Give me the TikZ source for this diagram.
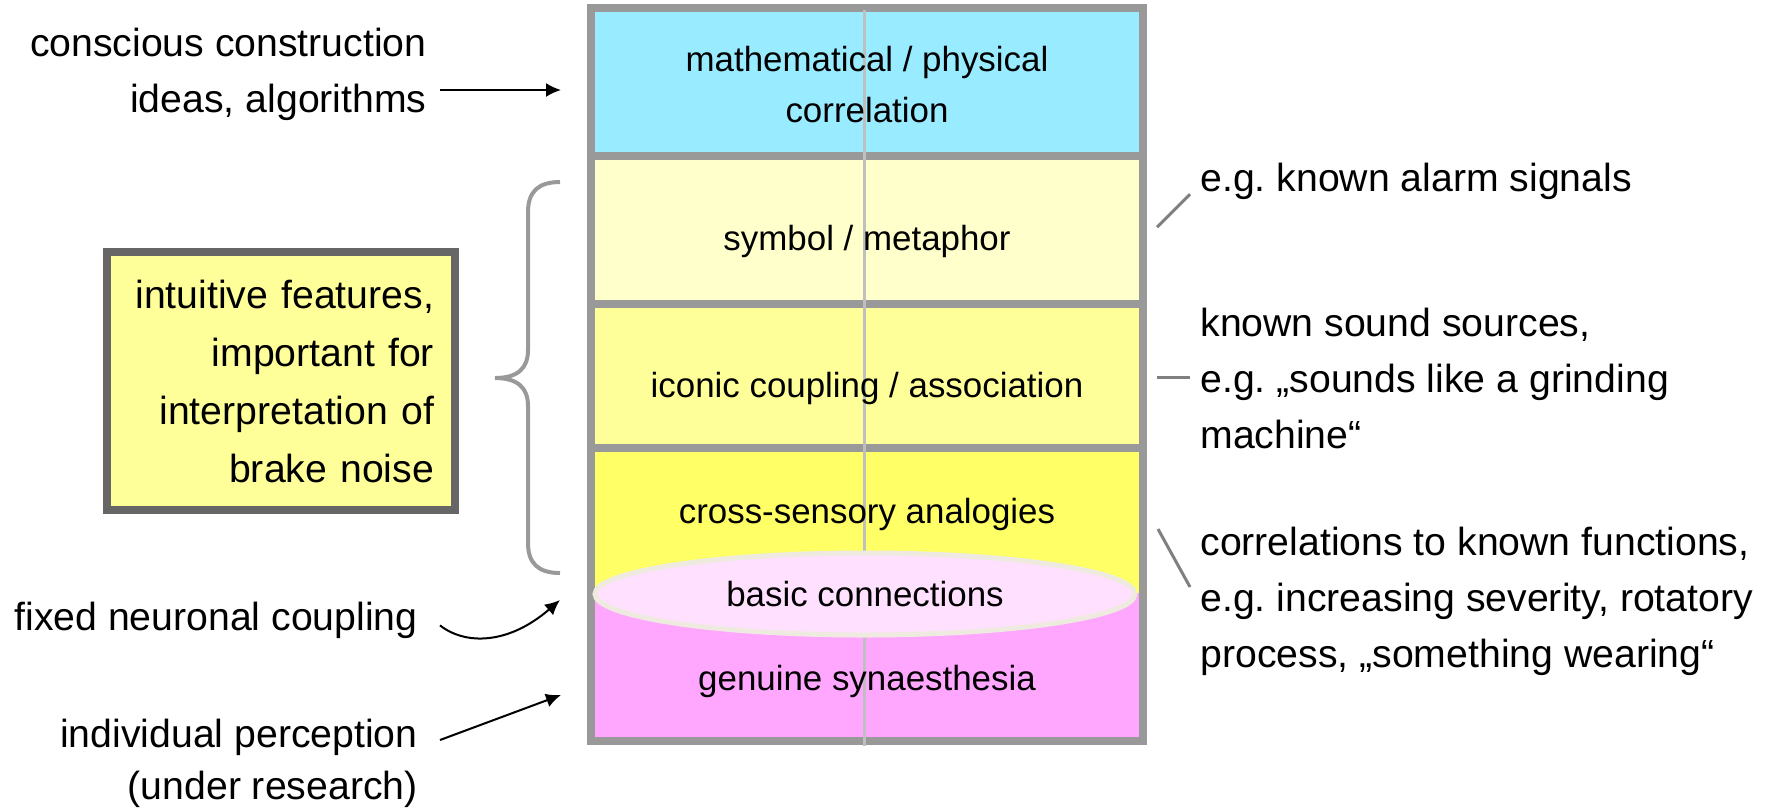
\documentclass[tikz,border=0pt]{standalone}
\usepackage{fontspec}
\setmainfont{Liberation Sans}
\usetikzlibrary{arrows.meta,shapes.geometric}
\definecolor{mathblue}{HTML}{99EBFF}
\definecolor{symbolyellow}{HTML}{FFFFCC}
\definecolor{iconyellow}{HTML}{FFFF99}
\definecolor{crossyellow}{HTML}{FFFF66}
\definecolor{synpink}{HTML}{FFA6FF}
\definecolor{basicpink}{HTML}{FFE0FF}
\definecolor{basicrim}{HTML}{EEEAE0}
\definecolor{framegray}{HTML}{999999}
\frenchspacing
\tikzset{
    layerframe/.style={draw=framegray, line width=4pt},
    divider/.style={draw=black!25, line width=1.5pt},
    lefttext/.style={inner sep=0pt, align=right, font=\fontsize{19.6}{28}\selectfont},
    righttext/.style={inner sep=0pt, align=left, font=\fontsize{19.6}{28}\selectfont},
    layertext/.style={inner sep=0pt, align=center, font=\fontsize{17.45}{25.5}\selectfont},
    featurebox/.style={draw=black!60, line width=4pt, fill=iconyellow, align=right,
        text width=153pt, inner xsep=10.5pt, minimum height=129pt,
        font=\fontsize{19.6}{29}\selectfont},
    pointer/.style={-{Latex[length=7.5pt,width=7pt]}, line width=1pt},
    hint/.style={draw=black!50, line width=1.5pt},
    bracket/.style={draw=framegray, line width=2pt}
}
\begin{document}
\begin{tikzpicture}[x=0.5pt, y=-0.5pt]
            \useasboundingbox (0,0) rectangle (1777,811);
            \fill[mathblue] (591,8) rectangle (1142.5,156);
            \fill[symbolyellow] (591,156) rectangle (1142.5,303.5);
            \fill[iconyellow] (591,303.5) rectangle (1142.5,448);
            \fill[crossyellow] (591,448) rectangle (1142.5,593);
            \fill[synpink] (591,593) rectangle (1142.5,741);
            \draw[layerframe] (591,156) -- (1142.5,156) (591,303.5) -- (1142.5,303.5) (591,448) -- (1142.5,448);
            \draw[layerframe] (591,8) rectangle (1142.5,741);
            \draw[divider] (864,10) -- (864,746);
            \node[ellipse, draw=basicrim, line width=2.5pt, fill=basicpink, inner sep=0pt,
                minimum width=270pt, minimum height=41pt, font=\fontsize{17.45}{25.5}\selectfont]
                (basic) at (865,594) {basic connections};
            \node[layertext] (math) at (867,85) {mathematical / physical\\correlation};
            \node[layertext, anchor=base] (symbol) at (867,250) {symbol / metaphor};
            \node[layertext, anchor=base] (iconic) at (867,397) {iconic coupling / association};
            \node[layertext, anchor=base] (cross) at (867,523) {cross-sensory analogies};
            \node[layertext, anchor=base] (genuine) at (867,690) {genuine synaesthesia};

            \node[featurebox] (intuitive) at (281,381) {intuitive features,\\important for\\interpretation of\\brake noise};
            \draw[bracket] (560,182) .. controls (538,182) and (528,192) .. (528,212) -- (528,350)
                .. controls (528,368) and (518,378) .. (495,378)
                .. controls (518,378) and (528,388) .. (528,406) -- (528,543)
                .. controls (528,563) and (538,573) .. (560,573);

            \node[lefttext, anchor=north east] (conscious) at (427,28) {conscious construction\\ideas, algorithms};
            \node[lefttext, anchor=base east] (fixed) at (418,630) {fixed neuronal coupling};
            \node[lefttext, anchor=north east, font=\fontsize{19.6}{26}\selectfont] (individual) at (418,719) {individual perception\\(under research)};
            \coordinate (toMath) at (561,90);
            \coordinate (toBasic) at (560,600);
            \coordinate (toGenuine) at (561,695);
            \draw[pointer] ([xshift=6.5pt]conscious.east |- toMath) -- (toMath);
            \draw[pointer] ([xshift=11pt,yshift=-2.75pt]fixed.east) .. controls (465,645) and (508,645) .. (toBasic);
            \draw[pointer] ([shift={(11pt,-10.5pt)}]individual.north east) -- (toGenuine);

            \node[righttext, anchor=north west] (alarm) at (1200,163) {e.g. known alarm signals};
            \node[righttext, anchor=north west] (sources) at (1200,308) {known sound sources,\\e.g. „sounds like a grinding\\machine“};
            \node[righttext, anchor=north west] (functions) at (1200,527) {correlations to known functions,\\e.g. increasing severity, rotatory\\process, „something wearing“};
            \draw[hint] ([shift={(-5pt,-6.25pt)}]alarm.west) -- ++(-16.5pt,-16.5pt);
            \draw[hint] ([shift={(-5pt,0.75pt)}]sources.west) -- ++(-16.5pt,0pt);
            \draw[hint] ([shift={(-5pt,-30pt)}]functions.north west) -- ++(-16pt,29pt);
        \end{tikzpicture}
\end{document}
